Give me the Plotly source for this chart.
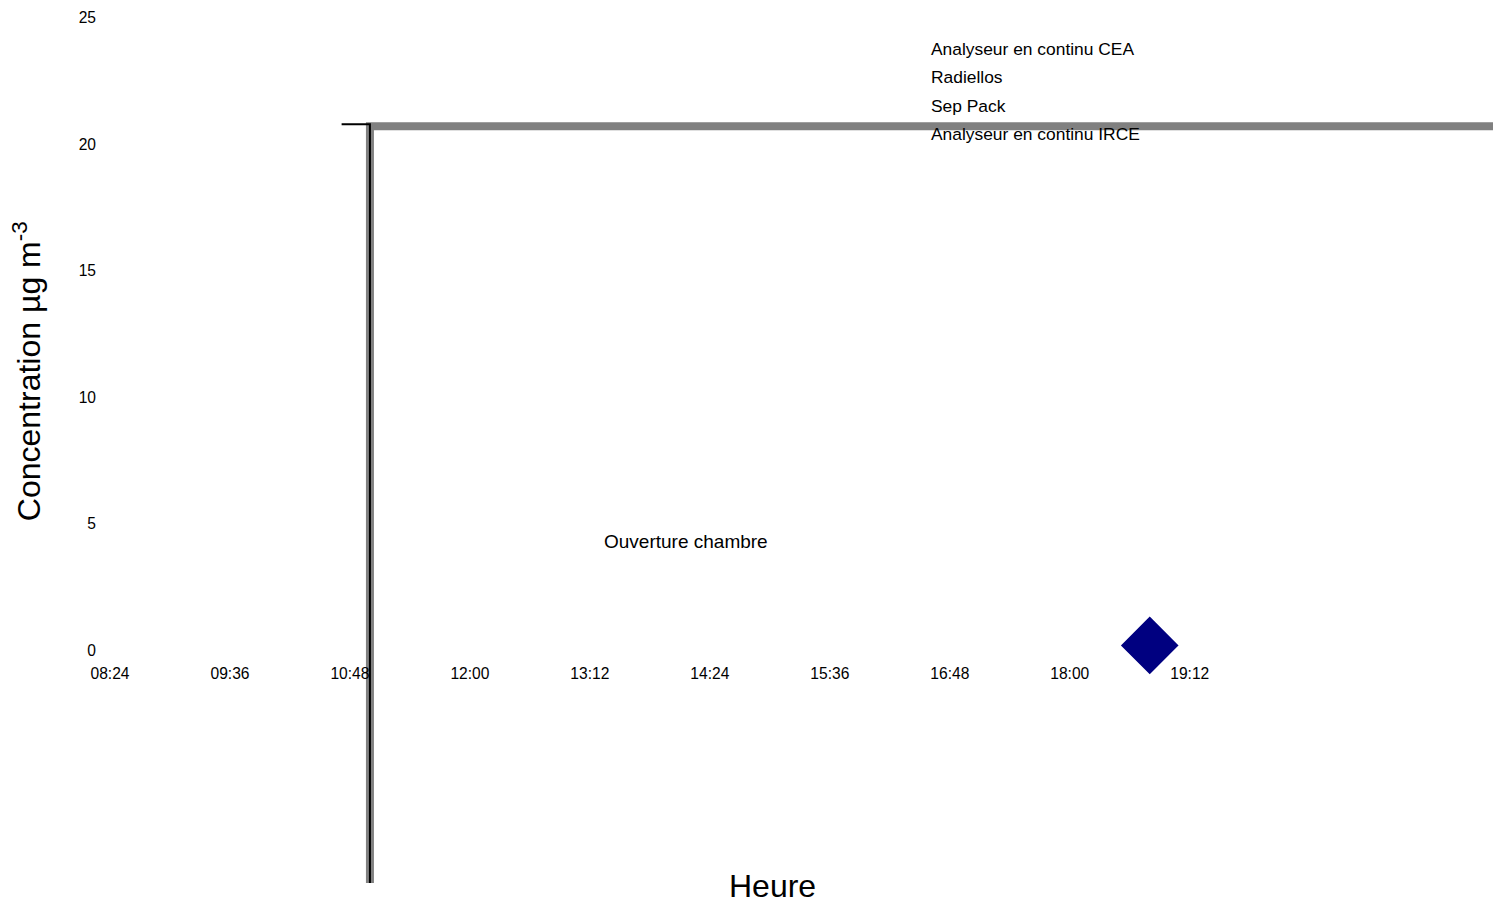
import plotly.graph_objects as go

DAY = "2000-01-01 "

# Series (times as HH:MM, concentrations in µg m-3)
gray_times = ["11:00", "11:00", "23:00"]
gray_values = [-10, 20.72, 20.72]
black_times = ["10:43", "11:00", "11:00"]
black_values = [20.8, 20.8, -10]
point_times = ["18:48"]
point_values = [0.2]

legend_labels = ["Analyseur en continu CEA", "Radiellos", "Sep Pack", "Analyseur en continu IRCE"]
x_ticks = ["08:24", "09:36", "10:48", "12:00", "13:12", "14:24", "15:36", "16:48", "18:00", "19:12"]
y_ticks = [0, 5, 10, 15, 20, 25]

FONT = "Liberation Sans, Arial, sans-serif"

def t(lst):
    return [DAY + s for s in lst]

# geometry (pixels)
W, H = 1502, 901
L, R, T, B = 110, 9, 16, 18
plot_w = W - L - R
plot_h = H - T - B
y_min, y_max = -9.19, 25

def py(pix):  # pixel y -> paper
    return (H - B - pix) / plot_h

def px(pix):  # pixel x -> paper
    return (pix - L) / plot_w

fig = go.Figure()
fig.add_trace(go.Scatter(x=t(gray_times), y=gray_values, mode="lines",
                         line=dict(color="#808080", width=8), name="Ouverture chambre",
                         showlegend=False, hoverinfo="skip"))
fig.add_trace(go.Scatter(x=t(black_times), y=black_values, mode="lines",
                         line=dict(color="#000000", width=2), name="Analyseur en continu IRCE",
                         showlegend=False, hoverinfo="skip"))
fig.add_trace(go.Scatter(x=t(point_times), y=point_values, mode="markers",
                         marker=dict(symbol="diamond", size=40, color="#000080",
                                     line=dict(color="#000080", width=4)),
                         name="Radiellos", showlegend=False, cliponaxis=False))

zero_pos = (0 - y_min) / (y_max - y_min)

fig.update_layout(
    width=W, height=H,
    margin=dict(l=L, r=R, t=T, b=B),
    paper_bgcolor="white", plot_bgcolor="white",
    font=dict(family=FONT, color="black"),
    showlegend=False,
    xaxis=dict(
        type="date",
        range=[DAY + "08:24", DAY + "22:14"],
        tickformat="%H:%M",
        tickvals=t(x_ticks),
        anchor="free", position=zero_pos,
        showgrid=False, zeroline=False, showline=False, ticks="",
        tickfont=dict(size=15.6, family=FONT, color="black"),
        ticklabelstandoff=12,
    ),
    yaxis=dict(
        range=[y_min, y_max],
        tickvals=y_ticks,
        showgrid=False, zeroline=False, showline=False, ticks="",
        tickfont=dict(size=15.6, family=FONT, color="black"),
        ticklabelstandoff=13,
    ),
)

annotations = []
leg_y = [47, 75, 104, 132]
for lab, yy in zip(legend_labels, leg_y):
    annotations.append(dict(text=lab, xref="paper", yref="paper", x=px(929), y=py(yy),
                            xanchor="left", yanchor="middle", showarrow=False,
                            font=dict(size=17.4, family=FONT, color="black")))
annotations.append(dict(text="Ouverture chambre", xref="paper", yref="paper",
                        x=px(686), y=py(541), xanchor="center", yanchor="middle",
                        showarrow=False, font=dict(size=19, family=FONT, color="black")))
annotations.append(dict(text="Concentration µg m<sup>-3</sup>", xref="paper", yref="paper",
                        x=px(27), y=py(370), xanchor="center", yanchor="middle", textangle=-90,
                        showarrow=False, font=dict(size=32, family=FONT, color="black")))
annotations.append(dict(text="Heure", xref="paper", yref="paper",
                        x=px(772), y=py(886), xanchor="center", yanchor="middle",
                        showarrow=False, font=dict(size=32, family=FONT, color="black")))
fig.update_layout(annotations=annotations)

fig.write_html("out.html")
